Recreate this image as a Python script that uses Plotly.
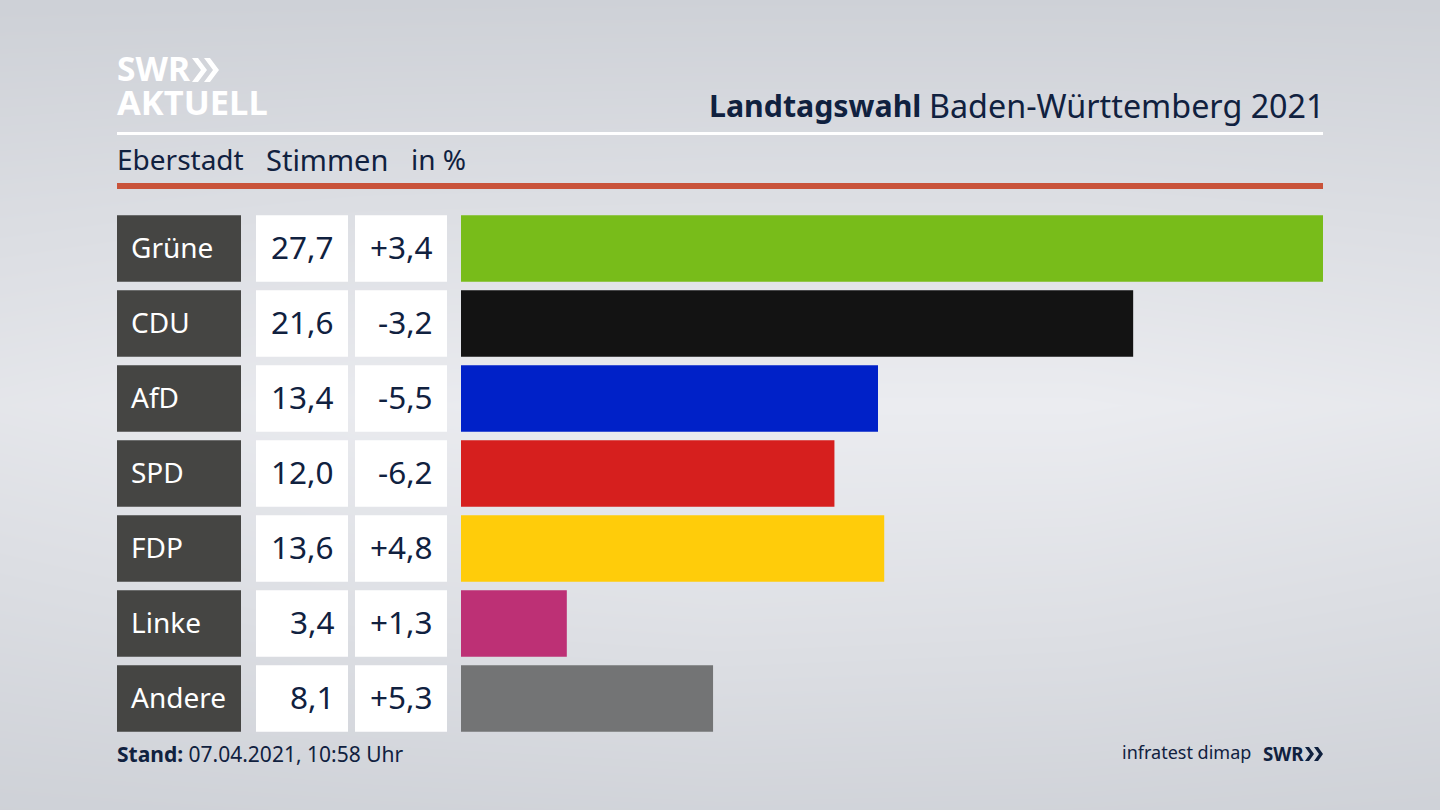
import plotly.graph_objects as go

WIDTH, HEIGHT = 1440, 810
FONT = "Noto Sans"
NAVY = "#10213f"

parties = ["Grüne", "CDU", "AfD", "SPD", "FDP", "Linke", "Andere"]
shares = [27.7, 21.6, 13.4, 12.0, 13.6, 3.4, 8.1]
changes = ["+3,4", "-3,2", "-5,5", "-6,2", "+4,8", "+1,3", "+5,3"]
party_colors = ["#78bc1a", "#131313", "#0021c8", "#d61f1e", "#ffcc0a", "#bd3075", "#737475"]

# background shading, rows top to bottom
bg_x = [0, 0.25, 0.5, 0.75, 1]
bg_y = [1, 0.75, 0.5, 0.25, 0]
bg_z = [
    [0.02, 0.03, 0.04, 0.04, 0.03],
    [0.42, 0.50, 0.52, 0.52, 0.45],
    [0.78, 0.94, 1.00, 1.00, 0.85],
    [0.42, 0.56, 0.62, 0.58, 0.45],
    [0.05, 0.10, 0.14, 0.12, 0.06],
]


def px_x(value):
    return value / WIDTH


def px_y(value):
    return 1 - value / HEIGHT


def text(x, y, label, size, color=NAVY, xanchor="left"):
    return dict(
        xref="paper", yref="paper", x=px_x(x), y=px_y(y), text=label, showarrow=False,
        xanchor=xanchor, yanchor="middle", font=dict(family=FONT, size=size, color=color),
    )


def chevron(left, top, bottom, depth, thick, color):
    # one ">" of the SWR logo, drawn in pixels
    mid = (top + bottom) / 2
    points = [
        (left, top), (left + thick, top), (left + thick + depth, mid),
        (left + thick, bottom), (left, bottom), (left + depth, mid),
    ]
    path = "M" + " L".join(f"{px_x(x):.5f},{px_y(y):.5f}" for x, y in points) + " Z"
    return dict(type="path", xref="paper", yref="paper", path=path, fillcolor=color, line_width=0)


def rule(top, bottom, color):
    return dict(type="rect", xref="paper", yref="paper", x0=px_x(117), x1=px_x(1323), y0=px_y(bottom), y1=px_y(top),
                fillcolor=color, line_width=0)


fig = go.Figure()
fig.add_trace(go.Heatmap(x=bg_x, y=bg_y, z=bg_z, zsmooth="best", showscale=False, hoverinfo="skip",
                         zmin=0, zmax=1, colorscale=[[0, "#cdd0d6"], [1, "#ebecf0"]]))

# table columns: (axis, left px, right px, fill)
columns = [("x3", 117, 241, "#454543"), ("x4", 256, 348, "white"), ("x5", 355, 447, "white")]
for axis, left, right, fill in columns:
    fig.add_trace(go.Bar(x=[1] * len(parties), y=parties, orientation="h", xaxis=axis, yaxis="y2",
                         marker=dict(color=fill, line_width=0), hoverinfo="skip"))
    fig.layout["xaxis" + axis[1:]] = dict(domain=[px_x(left), px_x(right)], range=[0, 1], visible=False, anchor="y2")

fig.add_trace(go.Bar(x=shares, y=parties, orientation="h", xaxis="x2", yaxis="y2",
                     marker=dict(color=party_colors, line_width=0)))

annotations = [
    text(115, 68, "<b>SWR</b>", 33.6, color="white"),
    text(115, 102, "<b>AKTUELL</b>", 34.5, color="white"),
    text(707, 105, "<b>Landtagswahl</b>", 30.3),
    text(1327, 105, "Baden-Württemberg 2021", 32.3, xanchor="right"),
    text(115, 159, "Eberstadt", 28),
    text(264, 159, "Stimmen", 29),
    text(409, 159, "in %", 28),
    text(115, 754, "<b>Stand:</b> 07.04.2021, 10:58 Uhr", 21),
    text(1253, 752, "infratest dimap", 18, xanchor="right"),
    text(1261, 753, "<b>SWR</b>", 18.7),
]
for party, share, change in zip(parties, shares, changes):
    annotations.append(dict(xref="x3", yref="y2", x=0.097, y=party, text=party, showarrow=False, xanchor="left",
                            yshift=2, font=dict(family=FONT, size=28, color="white")))
    annotations.append(dict(xref="x4", yref="y2", x=0.868, y=party, text=f"{share:.1f}".replace(".", ","),
                            showarrow=False, xanchor="right", yshift=2, font=dict(family=FONT, size=31.5, color=NAVY)))
    annotations.append(dict(xref="x5", yref="y2", x=0.865, y=party, text=change, showarrow=False, xanchor="right",
                            yshift=2, font=dict(family=FONT, size=31.5, color=NAVY)))

fig.update_layout(
    width=WIDTH, height=HEIGHT, margin=dict(l=0, r=0, t=0, b=0), showlegend=False,
    paper_bgcolor="#dfe1e6", plot_bgcolor="rgba(0,0,0,0)", bargap=0.113,
    xaxis=dict(domain=[0, 1], range=[0, 1], visible=False),
    yaxis=dict(domain=[0, 1], range=[0, 1], visible=False),
    xaxis2=dict(domain=[px_x(461), px_x(1323)], range=[0, max(shares)], visible=False, anchor="y2"),
    yaxis2=dict(domain=[px_y(736), px_y(211)], categoryorder="array", categoryarray=parties, autorange="reversed",
                visible=False, anchor="x2"),
    annotations=annotations,
    shapes=[
        rule(132, 135, "white"),
        rule(183, 189, "#c9533a"),
        chevron(192, 58, 82, 9, 6, "white"),
        chevron(204, 58, 82, 9, 6, "white"),
        chevron(1305, 747, 761, 5, 4, NAVY),
        chevron(1314, 747, 761, 5, 4, NAVY),
    ],
)

fig.write_html("out.html", config=dict(displayModeBar=False), post_script="document.body.style.margin = '0';")
